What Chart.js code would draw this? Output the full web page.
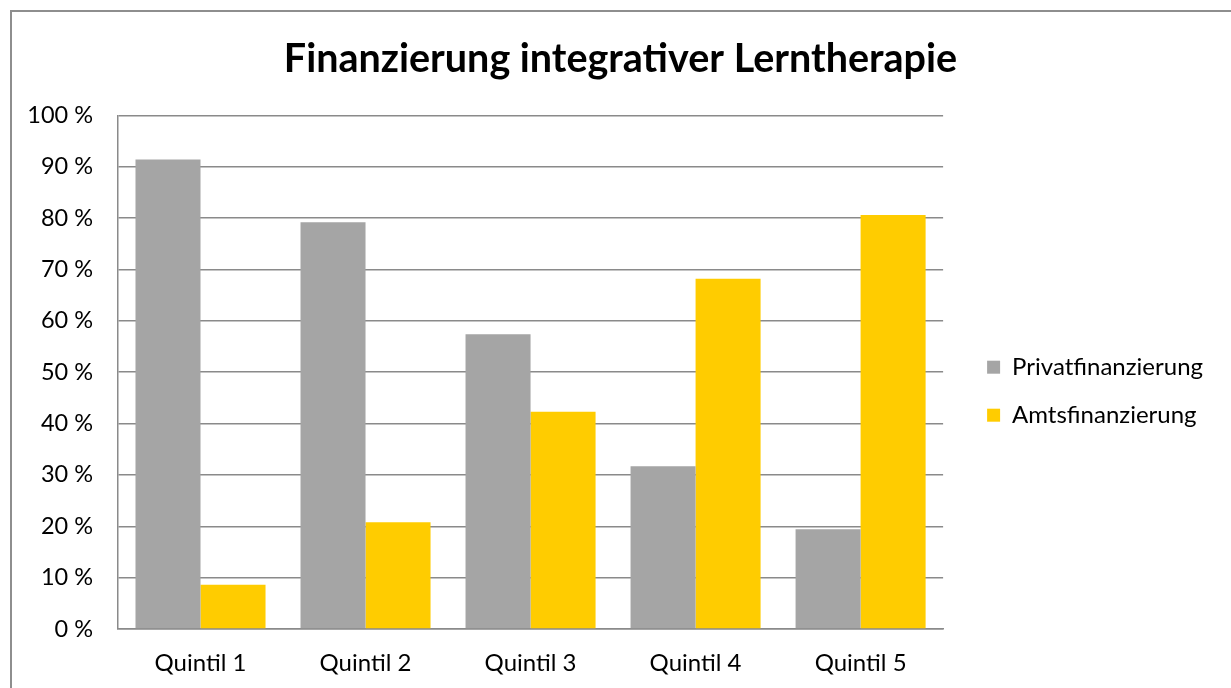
<!DOCTYPE html>
<html>
<head>
<meta charset="utf-8">
<script src="https://cdn.jsdelivr.net/npm/chart.js@4"></script>
<style>
  html, body { margin: 0; padding: 0; background: #fff; overflow: hidden; }
  #frame { position: absolute; left: 10px; top: 10px; width: 1240px; height: 700px; border: 2px solid #8e8e8e; box-sizing: border-box; }
  #wrap { position: absolute; left: 0; top: 0; width: 1231px; height: 688px; }
</style>
</head>
<body>
<div id="frame"></div>
<div id="wrap"><canvas id="chart"></canvas></div>
<script>
const quintile = ["Quintil 1", "Quintil 2", "Quintil 3", "Quintil 4", "Quintil 5"];
const privat = [91.4, 79.2, 57.4, 31.7, 19.4];
const amt = [8.6, 20.8, 42.3, 68.2, 80.6];
const seriesNames = ["Privatfinanzierung", "Amtsfinanzierung"];
const barColors = ["#a5a5a5", "#ffcc00"];

Chart.defaults.font.family = "Lato, 'Liberation Sans', sans-serif";
Chart.defaults.color = "#000";

const legendGap = 20;   // extra space between plot and legend items
const legendExtra = 38; // total extra width of the legend box

const chart = document.getElementById("chart");
const myChart = new Chart(chart, {
  type: "bar",
  data: {
    labels: quintile,
    datasets: [
      { label: seriesNames[0], data: privat, backgroundColor: barColors[0], categoryPercentage: 0.788, barPercentage: 1 },
      { label: seriesNames[1], data: amt, backgroundColor: barColors[1], categoryPercentage: 0.788, barPercentage: 1 },
    ],
  },
  options: {
    responsive: true,
    maintainAspectRatio: false,
    animation: false,
    layout: { padding: { left: 10, right: 0, top: 0, bottom: 0 } },
    plugins: {
      tooltip: { enabled: false },
      title: {
        display: true,
        text: "Finanzierung integrativer Lerntherapie",
        font: { size: 39.5, weight: "bold" },
        lineHeight: 1.2,
        padding: { top: 36, bottom: 32 },
      },
      legend: {
        position: "right",
        align: "center",
        title: { display: true, text: "", padding: 40 },
        labels: {
          boxWidth: 13,
          boxHeight: 13,
          padding: 24,
          font: { size: 24 },
        },
      },
    },
    scales: {
      y: {
        min: 0,
        max: 100,
        ticks: { stepSize: 10, padding: 25, font: { size: 23.5 }, callback: (v) => v + " %" },
        grid: { color: "#8a8a8a", lineWidth: 1.5, drawTicks: false },
        border: { color: "#8a8a8a", width: 1.5 },
        afterFit: (s) => { s.width = 108; },
      },
      x: {
        ticks: { padding: 20, font: { size: 24 } },
        grid: { display: false, drawTicks: false },
        border: { color: "#8a8a8a", width: 1.5 },
        afterFit: (s) => { s.height = 59; },
      },
    },
  },
});

// widen the legend box and push its items right
const lg = myChart.legend;
const legendFit = lg.fit.bind(lg);
lg.fit = function () {
  legendFit();
  this.width += legendExtra;
};
const legendDraw = lg.draw.bind(lg);
lg.draw = function () {
  this.left += legendGap;
  legendDraw();
  this.left -= legendGap;
};
myChart.update();
</script>
</body>
</html>
